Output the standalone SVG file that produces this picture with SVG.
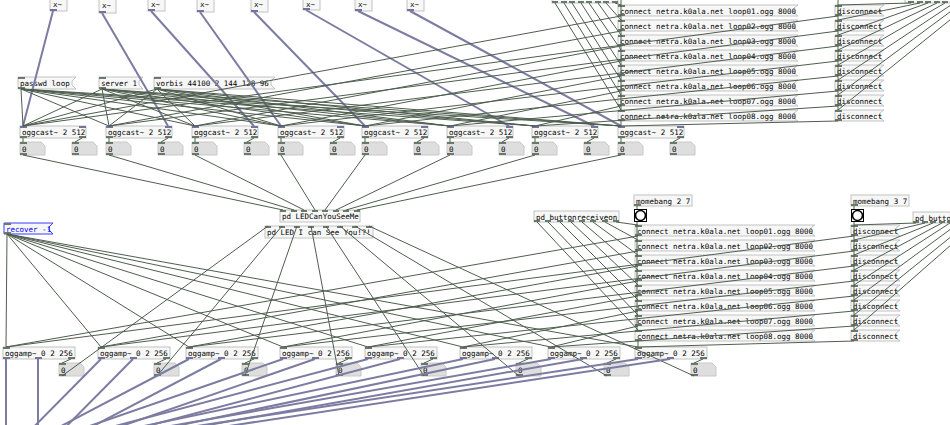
<svg xmlns="http://www.w3.org/2000/svg" width="950" height="425" viewBox="0 0 950 425">
<style>
.bx{fill:#f7f7f7;stroke:#c2c2c2;stroke-width:1}
.rb{fill:#f7f7f7;stroke:#3c3cff;stroke-width:1}
.nb{fill:#dedede;stroke:#c8c8c8;stroke-width:1}
.t{font-family:"DejaVu Sans Mono",monospace;font-size:7.5px;fill:#000}
.tb{font-family:"DejaVu Sans Mono",monospace;font-size:7.5px;fill:#0000ff}
.io{fill:#6a7a6a}
.sio{fill:#74749a}
.c{stroke:#4e5e4e;stroke-width:1;fill:none}
.s{stroke:#7c7ca2;stroke-width:2;fill:none}
.bg{fill:#fff;stroke:#000;stroke-width:1}
.bc{fill:none;stroke:#000;stroke-width:1.6}
</style>
<rect width="950" height="425" fill="#fff"/>
<g id="nodes">
<g id="mul1"><rect class="bx" x="50" y="-4" width="17" height="15"/><text class="t" x="53" y="7">x~</text><rect class="sio" x="50" y="9" width="7" height="2"/></g>
<g id="mul2"><rect class="bx" x="99" y="-2" width="17" height="15"/><rect class="sio" x="99" y="-2" width="7" height="2"/><rect class="sio" x="109" y="-2" width="7" height="2"/><text class="t" x="102" y="8">x~</text><rect class="sio" x="99" y="11" width="7" height="2"/></g>
<g id="mul3"><rect class="bx" x="148" y="-4" width="17" height="15"/><text class="t" x="151" y="7">x~</text><rect class="sio" x="148" y="9" width="7" height="2"/></g>
<g id="mul4"><rect class="bx" x="197" y="-3" width="17" height="15"/><text class="t" x="200" y="7">x~</text><rect class="sio" x="197" y="10" width="7" height="2"/></g>
<g id="mul5"><rect class="bx" x="251" y="-3" width="17" height="15"/><text class="t" x="254" y="7">x~</text><rect class="sio" x="251" y="10" width="7" height="2"/></g>
<g id="mul6"><rect class="bx" x="303" y="-5" width="17" height="15"/><text class="t" x="306" y="6.5">x~</text><rect class="sio" x="303" y="8" width="7" height="2"/></g>
<g id="mul7"><rect class="bx" x="355" y="-4" width="17" height="15"/><text class="t" x="358" y="7">x~</text><rect class="sio" x="355" y="9" width="7" height="2"/></g>
<g id="mul8"><rect class="bx" x="407" y="-4" width="17" height="15"/><text class="t" x="410" y="7">x~</text><rect class="sio" x="407" y="9" width="7" height="2"/></g>

<g id="msg-passwd"><path class="bx" d="M18 77H76L72 81V85L76 89H18Z"/><text class="t" x="20" y="86">passwd loop</text><rect class="io" x="18" y="77" width="7" height="2"/><rect class="io" x="18" y="87" width="7" height="2"/></g>
<g id="msg-server"><path class="bx" d="M99 77H143L139 81V85L143 89H99Z"/><text class="t" x="101" y="86">server 1</text><rect class="io" x="99" y="77" width="7" height="2"/><rect class="io" x="99" y="87" width="7" height="2"/></g>
<g id="msg-vorbis"><path class="bx" d="M154 77H275L271 81V85L275 89H154Z"/><text class="t" x="156" y="86">vorbis 44100 2 144 128 96</text><rect class="io" x="154" y="77" width="7" height="2"/><rect class="io" x="154" y="87" width="7" height="2"/></g>

<g id="oggcast1"><rect class="bx" x="20" y="126" width="66" height="12"/><text class="t" x="22" y="135">oggcast~ 2 512</text><rect class="sio" x="20" y="126" width="7" height="2"/><rect class="sio" x="79" y="126" width="7" height="2"/><rect class="io" x="20" y="136" width="7" height="2"/><rect class="io" x="79" y="136" width="7" height="2"/></g>
<g id="oggcast2"><rect class="bx" x="106" y="126" width="66" height="12"/><text class="t" x="108" y="135">oggcast~ 2 512</text><rect class="sio" x="106" y="126" width="7" height="2"/><rect class="sio" x="165" y="126" width="7" height="2"/><rect class="io" x="106" y="136" width="7" height="2"/><rect class="io" x="165" y="136" width="7" height="2"/></g>
<g id="oggcast3"><rect class="bx" x="192" y="126" width="66" height="12"/><text class="t" x="194" y="135">oggcast~ 2 512</text><rect class="sio" x="192" y="126" width="7" height="2"/><rect class="sio" x="251" y="126" width="7" height="2"/><rect class="io" x="192" y="136" width="7" height="2"/><rect class="io" x="251" y="136" width="7" height="2"/></g>
<g id="oggcast4"><rect class="bx" x="278" y="126" width="66" height="12"/><text class="t" x="280" y="135">oggcast~ 2 512</text><rect class="sio" x="278" y="126" width="7" height="2"/><rect class="sio" x="337" y="126" width="7" height="2"/><rect class="io" x="278" y="136" width="7" height="2"/><rect class="io" x="337" y="136" width="7" height="2"/></g>
<g id="oggcast5"><rect class="bx" x="362" y="126" width="66" height="12"/><text class="t" x="364" y="135">oggcast~ 2 512</text><rect class="sio" x="362" y="126" width="7" height="2"/><rect class="sio" x="421" y="126" width="7" height="2"/><rect class="io" x="362" y="136" width="7" height="2"/><rect class="io" x="421" y="136" width="7" height="2"/></g>
<g id="oggcast6"><rect class="bx" x="447" y="126" width="66" height="12"/><text class="t" x="449" y="135">oggcast~ 2 512</text><rect class="sio" x="447" y="126" width="7" height="2"/><rect class="sio" x="506" y="126" width="7" height="2"/><rect class="io" x="447" y="136" width="7" height="2"/><rect class="io" x="506" y="136" width="7" height="2"/></g>
<g id="oggcast7"><rect class="bx" x="532" y="126" width="66" height="12"/><text class="t" x="534" y="135">oggcast~ 2 512</text><rect class="sio" x="532" y="126" width="7" height="2"/><rect class="sio" x="591" y="126" width="7" height="2"/><rect class="io" x="532" y="136" width="7" height="2"/><rect class="io" x="591" y="136" width="7" height="2"/></g>
<g id="oggcast8"><rect class="bx" x="618" y="126" width="66" height="12"/><text class="t" x="620" y="135">oggcast~ 2 512</text><rect class="sio" x="618" y="126" width="7" height="2"/><rect class="sio" x="677" y="126" width="7" height="2"/><rect class="io" x="618" y="136" width="7" height="2"/><rect class="io" x="677" y="136" width="7" height="2"/></g>

<g id="numA1"><path class="nb" d="M20 142H41L45 146V155H20Z"/><text class="t" x="22" y="152">0</text><rect class="io" x="20" y="142" width="7" height="2"/><rect class="io" x="20" y="153" width="7" height="2"/></g>
<g id="numB1"><path class="nb" d="M72 142H93L97 146V155H72Z"/><text class="t" x="74" y="152">0</text><rect class="io" x="72" y="142" width="7" height="2"/><rect class="io" x="72" y="153" width="7" height="2"/></g>
<g id="numA2"><path class="nb" d="M106 142H127L131 146V155H106Z"/><text class="t" x="108" y="152">0</text><rect class="io" x="106" y="142" width="7" height="2"/><rect class="io" x="106" y="153" width="7" height="2"/></g>
<g id="numB2"><path class="nb" d="M158 142H179L183 146V155H158Z"/><text class="t" x="160" y="152">0</text><rect class="io" x="158" y="142" width="7" height="2"/><rect class="io" x="158" y="153" width="7" height="2"/></g>
<g id="numA3"><path class="nb" d="M192 142H213L217 146V155H192Z"/><text class="t" x="194" y="152">0</text><rect class="io" x="192" y="142" width="7" height="2"/><rect class="io" x="192" y="153" width="7" height="2"/></g>
<g id="numB3"><path class="nb" d="M244 142H265L269 146V155H244Z"/><text class="t" x="246" y="152">0</text><rect class="io" x="244" y="142" width="7" height="2"/><rect class="io" x="244" y="153" width="7" height="2"/></g>
<g id="numA4"><path class="nb" d="M278 142H299L303 146V155H278Z"/><text class="t" x="280" y="152">0</text><rect class="io" x="278" y="142" width="7" height="2"/><rect class="io" x="278" y="153" width="7" height="2"/></g>
<g id="numB4"><path class="nb" d="M330 142H351L355 146V155H330Z"/><text class="t" x="332" y="152">0</text><rect class="io" x="330" y="142" width="7" height="2"/><rect class="io" x="330" y="153" width="7" height="2"/></g>
<g id="numA5"><path class="nb" d="M362 142H383L387 146V155H362Z"/><text class="t" x="364" y="152">0</text><rect class="io" x="362" y="142" width="7" height="2"/><rect class="io" x="362" y="153" width="7" height="2"/></g>
<g id="numB5"><path class="nb" d="M414 142H435L439 146V155H414Z"/><text class="t" x="416" y="152">0</text><rect class="io" x="414" y="142" width="7" height="2"/><rect class="io" x="414" y="153" width="7" height="2"/></g>
<g id="numA6"><path class="nb" d="M447 142H468L472 146V155H447Z"/><text class="t" x="449" y="152">0</text><rect class="io" x="447" y="142" width="7" height="2"/><rect class="io" x="447" y="153" width="7" height="2"/></g>
<g id="numB6"><path class="nb" d="M499 142H520L524 146V155H499Z"/><text class="t" x="501" y="152">0</text><rect class="io" x="499" y="142" width="7" height="2"/><rect class="io" x="499" y="153" width="7" height="2"/></g>
<g id="numA7"><path class="nb" d="M532 142H553L557 146V155H532Z"/><text class="t" x="534" y="152">0</text><rect class="io" x="532" y="142" width="7" height="2"/><rect class="io" x="532" y="153" width="7" height="2"/></g>
<g id="numB7"><path class="nb" d="M584 142H605L609 146V155H584Z"/><text class="t" x="586" y="152">0</text><rect class="io" x="584" y="142" width="7" height="2"/><rect class="io" x="584" y="153" width="7" height="2"/></g>
<g id="numA8"><path class="nb" d="M618 142H639L643 146V155H618Z"/><text class="t" x="620" y="152">0</text><rect class="io" x="618" y="142" width="7" height="2"/><rect class="io" x="618" y="153" width="7" height="2"/></g>
<g id="numB8"><path class="nb" d="M670 142H691L695 146V155H670Z"/><text class="t" x="672" y="152">0</text><rect class="io" x="670" y="142" width="7" height="2"/><rect class="io" x="670" y="153" width="7" height="2"/></g>

<g id="topbox1"><rect class="bx" x="552" y="-9" width="66" height="12"/><rect class="io" x="552" y="1" width="6" height="2"/><rect class="io" x="561" y="1" width="6" height="2"/><rect class="io" x="569" y="1" width="6" height="2"/><rect class="io" x="578" y="1" width="6" height="2"/><rect class="io" x="586" y="1" width="6" height="2"/><rect class="io" x="595" y="1" width="6" height="2"/><rect class="io" x="603" y="1" width="6" height="2"/><rect class="io" x="612" y="1" width="6" height="2"/></g>
<g id="topbox2"><rect class="bx" x="905" y="-9" width="70" height="12"/><rect class="io" x="908" y="1" width="6" height="2"/><rect class="io" x="917" y="1" width="6" height="2"/><rect class="io" x="925" y="1" width="6" height="2"/><rect class="io" x="934" y="1" width="6" height="2"/><rect class="io" x="942" y="1" width="6" height="2"/></g>

<g id="conn-top1"><path class="bx" d="M618 5H798L794 8V13L798 16H618Z"/><text class="t" x="620" y="13.5">connect netra.k0ala.net loop01.ogg 8000</text><rect class="io" x="618" y="5" width="7" height="2"/><rect class="io" x="618" y="14" width="7" height="2"/></g>
<g id="conn-top2"><path class="bx" d="M618 20H798L794 23V28L798 31H618Z"/><text class="t" x="620" y="28.5">connect netra.k0ala.net loop02.ogg 8000</text><rect class="io" x="618" y="20" width="7" height="2"/><rect class="io" x="618" y="29" width="7" height="2"/></g>
<g id="conn-top3"><path class="bx" d="M618 35H798L794 38V43L798 46H618Z"/><text class="t" x="620" y="43.5">connect netra.k0ala.net loop03.ogg 8000</text><rect class="io" x="618" y="35" width="7" height="2"/><rect class="io" x="618" y="44" width="7" height="2"/></g>
<g id="conn-top4"><path class="bx" d="M618 50H798L794 53V58L798 61H618Z"/><text class="t" x="620" y="58.5">connect netra.k0ala.net loop04.ogg 8000</text><rect class="io" x="618" y="50" width="7" height="2"/><rect class="io" x="618" y="59" width="7" height="2"/></g>
<g id="conn-top5"><path class="bx" d="M618 65H798L794 68V73L798 76H618Z"/><text class="t" x="620" y="73.5">connect netra.k0ala.net loop05.ogg 8000</text><rect class="io" x="618" y="65" width="7" height="2"/><rect class="io" x="618" y="74" width="7" height="2"/></g>
<g id="conn-top6"><path class="bx" d="M618 80H798L794 83V88L798 91H618Z"/><text class="t" x="620" y="88.5">connect netra.k0ala.net loop06.ogg 8000</text><rect class="io" x="618" y="80" width="7" height="2"/><rect class="io" x="618" y="89" width="7" height="2"/></g>
<g id="conn-top7"><path class="bx" d="M618 95H798L794 98V103L798 106H618Z"/><text class="t" x="620" y="103.5">connect netra.k0ala.net loop07.ogg 8000</text><rect class="io" x="618" y="95" width="7" height="2"/><rect class="io" x="618" y="104" width="7" height="2"/></g>
<g id="conn-top8"><path class="bx" d="M618 110H798L794 113V118L798 121H618Z"/><text class="t" x="620" y="118.5">connect netra.k0ala.net loop08.ogg 8000</text><rect class="io" x="618" y="110" width="7" height="2"/><rect class="io" x="618" y="119" width="7" height="2"/></g>

<g id="disc-top1"><path class="bx" d="M835 5H884L880 8V13L884 16H835Z"/><text class="t" x="837" y="13.5">disconnect</text><rect class="io" x="835" y="5" width="7" height="2"/><rect class="io" x="835" y="14" width="7" height="2"/></g>
<g id="disc-top2"><path class="bx" d="M835 20H884L880 23V28L884 31H835Z"/><text class="t" x="837" y="28.5">disconnect</text><rect class="io" x="835" y="20" width="7" height="2"/><rect class="io" x="835" y="29" width="7" height="2"/></g>
<g id="disc-top3"><path class="bx" d="M835 35H884L880 38V43L884 46H835Z"/><text class="t" x="837" y="43.5">disconnect</text><rect class="io" x="835" y="35" width="7" height="2"/><rect class="io" x="835" y="44" width="7" height="2"/></g>
<g id="disc-top4"><path class="bx" d="M835 50H884L880 53V58L884 61H835Z"/><text class="t" x="837" y="58.5">disconnect</text><rect class="io" x="835" y="50" width="7" height="2"/><rect class="io" x="835" y="59" width="7" height="2"/></g>
<g id="disc-top5"><path class="bx" d="M835 65H884L880 68V73L884 76H835Z"/><text class="t" x="837" y="73.5">disconnect</text><rect class="io" x="835" y="65" width="7" height="2"/><rect class="io" x="835" y="74" width="7" height="2"/></g>
<g id="disc-top6"><path class="bx" d="M835 80H884L880 83V88L884 91H835Z"/><text class="t" x="837" y="88.5">disconnect</text><rect class="io" x="835" y="80" width="7" height="2"/><rect class="io" x="835" y="89" width="7" height="2"/></g>
<g id="disc-top7"><path class="bx" d="M835 95H884L880 98V103L884 106H835Z"/><text class="t" x="837" y="103.5">disconnect</text><rect class="io" x="835" y="95" width="7" height="2"/><rect class="io" x="835" y="104" width="7" height="2"/></g>
<g id="disc-top8"><path class="bx" d="M835 110H884L880 113V118L884 121H835Z"/><text class="t" x="837" y="118.5">disconnect</text><rect class="io" x="835" y="110" width="7" height="2"/><rect class="io" x="835" y="119" width="7" height="2"/></g>

<g id="led1"><rect class="bx" x="280" y="210" width="80" height="12"/><text class="t" x="282" y="219">pd LEDCanYouSeeMe</text><rect class="io" x="280" y="210" width="6" height="2"/><rect class="io" x="291" y="210" width="6" height="2"/><rect class="io" x="301" y="210" width="6" height="2"/><rect class="io" x="312" y="210" width="6" height="2"/><rect class="io" x="322" y="210" width="6" height="2"/><rect class="io" x="333" y="210" width="6" height="2"/><rect class="io" x="343" y="210" width="6" height="2"/><rect class="io" x="354" y="210" width="6" height="2"/></g>
<g id="led2"><rect class="bx" x="265" y="226" width="108" height="12"/><text class="t" x="267" y="235">pd LED I can See You!?!</text><rect class="io" x="265" y="226" width="6" height="2"/><rect class="io" x="279" y="226" width="6" height="2"/><rect class="io" x="294" y="226" width="6" height="2"/><rect class="io" x="308" y="226" width="6" height="2"/><rect class="io" x="323" y="226" width="6" height="2"/><rect class="io" x="337" y="226" width="6" height="2"/><rect class="io" x="352" y="226" width="6" height="2"/><rect class="io" x="366" y="226" width="6" height="2"/></g>

<g id="recover"><path class="rb" d="M4 223H53L49 227V230L53 234H4Z"/><text class="tb" x="6" y="232">recover -1</text><rect class="io" x="4" y="223" width="7" height="2"/><rect class="io" x="4" y="232" width="7" height="2"/></g>

<g id="btnrecv"><rect class="bx" x="534" y="211" width="85" height="11"/><text class="t" x="536" y="219.5">pd buttonreceiveon</text><rect class="io" x="534" y="220" width="6" height="2"/><rect class="io" x="545" y="220" width="6" height="2"/><rect class="io" x="557" y="220" width="6" height="2"/><rect class="io" x="568" y="220" width="6" height="2"/><rect class="io" x="579" y="220" width="6" height="2"/><rect class="io" x="590" y="220" width="6" height="2"/><rect class="io" x="602" y="220" width="6" height="2"/><rect class="io" x="613" y="220" width="6" height="2"/></g>
<g id="momebang2"><rect class="bx" x="634" y="195" width="58" height="11"/><text class="t" x="636" y="203.5">momebang 2 7</text><rect class="io" x="634" y="204" width="7" height="2"/></g>
<g id="bang2"><rect class="bg" x="634.5" y="209.5" width="12" height="12"/><circle class="bc" cx="640.5" cy="215.5" r="5"/></g>
<g id="momebang3"><rect class="bx" x="851" y="195" width="58" height="11"/><text class="t" x="853" y="203.5">momebang 3 7</text><rect class="io" x="851" y="204" width="7" height="2"/></g>
<g id="bang3"><rect class="bg" x="851.5" y="209.5" width="12" height="12"/><circle class="bc" cx="857.5" cy="215.5" r="5"/></g>
<g id="btnoff"><rect class="bx" x="913" y="212" width="80" height="11"/><text class="t" x="915" y="220.5">pd butto</text><rect class="io" x="913" y="221" width="6" height="2"/><rect class="io" x="922" y="221" width="6" height="2"/><rect class="io" x="930" y="221" width="6" height="2"/><rect class="io" x="939" y="221" width="6" height="2"/><rect class="io" x="947" y="221" width="6" height="2"/></g>

<g id="conn-mid1"><path class="bx" d="M635 225H815L811 228V233L815 236H635Z"/><text class="t" x="637" y="233.5">connect netra.k0ala.net loop01.ogg 8000</text><rect class="io" x="635" y="225" width="7" height="2"/><rect class="io" x="635" y="234" width="7" height="2"/></g>
<g id="conn-mid2"><path class="bx" d="M635 240H815L811 243V248L815 251H635Z"/><text class="t" x="637" y="248.5">connect netra.k0ala.net loop02.ogg 8000</text><rect class="io" x="635" y="240" width="7" height="2"/><rect class="io" x="635" y="249" width="7" height="2"/></g>
<g id="conn-mid3"><path class="bx" d="M635 255H815L811 258V263L815 266H635Z"/><text class="t" x="637" y="263.5">connect netra.k0ala.net loop03.ogg 8000</text><rect class="io" x="635" y="255" width="7" height="2"/><rect class="io" x="635" y="264" width="7" height="2"/></g>
<g id="conn-mid4"><path class="bx" d="M635 270H815L811 273V278L815 281H635Z"/><text class="t" x="637" y="278.5">connect netra.k0ala.net loop04.ogg 8000</text><rect class="io" x="635" y="270" width="7" height="2"/><rect class="io" x="635" y="279" width="7" height="2"/></g>
<g id="conn-mid5"><path class="bx" d="M635 285H815L811 288V293L815 296H635Z"/><text class="t" x="637" y="293.5">connect netra.k0ala.net loop05.ogg 8000</text><rect class="io" x="635" y="285" width="7" height="2"/><rect class="io" x="635" y="294" width="7" height="2"/></g>
<g id="conn-mid6"><path class="bx" d="M635 300H815L811 303V308L815 311H635Z"/><text class="t" x="637" y="308.5">connect netra.k0ala.net loop06.ogg 8000</text><rect class="io" x="635" y="300" width="7" height="2"/><rect class="io" x="635" y="309" width="7" height="2"/></g>
<g id="conn-mid7"><path class="bx" d="M635 315H815L811 318V323L815 326H635Z"/><text class="t" x="637" y="323.5">connect netra.k0ala.net loop07.ogg 8000</text><rect class="io" x="635" y="315" width="7" height="2"/><rect class="io" x="635" y="324" width="7" height="2"/></g>
<g id="conn-mid8"><path class="bx" d="M635 330H815L811 333V338L815 341H635Z"/><text class="t" x="637" y="338.5">connect netra.k0ala.net loop08.ogg 8000</text><rect class="io" x="635" y="330" width="7" height="2"/><rect class="io" x="635" y="339" width="7" height="2"/></g>

<g id="disc-mid1"><path class="bx" d="M851 225H900L896 228V233L900 236H851Z"/><text class="t" x="853" y="233.5">disconnect</text><rect class="io" x="851" y="225" width="7" height="2"/><rect class="io" x="851" y="234" width="7" height="2"/></g>
<g id="disc-mid2"><path class="bx" d="M851 240H900L896 243V248L900 251H851Z"/><text class="t" x="853" y="248.5">disconnect</text><rect class="io" x="851" y="240" width="7" height="2"/><rect class="io" x="851" y="249" width="7" height="2"/></g>
<g id="disc-mid3"><path class="bx" d="M851 255H900L896 258V263L900 266H851Z"/><text class="t" x="853" y="263.5">disconnect</text><rect class="io" x="851" y="255" width="7" height="2"/><rect class="io" x="851" y="264" width="7" height="2"/></g>
<g id="disc-mid4"><path class="bx" d="M851 270H900L896 273V278L900 281H851Z"/><text class="t" x="853" y="278.5">disconnect</text><rect class="io" x="851" y="270" width="7" height="2"/><rect class="io" x="851" y="279" width="7" height="2"/></g>
<g id="disc-mid5"><path class="bx" d="M851 285H900L896 288V293L900 296H851Z"/><text class="t" x="853" y="293.5">disconnect</text><rect class="io" x="851" y="285" width="7" height="2"/><rect class="io" x="851" y="294" width="7" height="2"/></g>
<g id="disc-mid6"><path class="bx" d="M851 300H900L896 303V308L900 311H851Z"/><text class="t" x="853" y="308.5">disconnect</text><rect class="io" x="851" y="300" width="7" height="2"/><rect class="io" x="851" y="309" width="7" height="2"/></g>
<g id="disc-mid7"><path class="bx" d="M851 315H900L896 318V323L900 326H851Z"/><text class="t" x="853" y="323.5">disconnect</text><rect class="io" x="851" y="315" width="7" height="2"/><rect class="io" x="851" y="324" width="7" height="2"/></g>
<g id="disc-mid8"><path class="bx" d="M851 330H900L896 333V338L900 341H851Z"/><text class="t" x="853" y="338.5">disconnect</text><rect class="io" x="851" y="330" width="7" height="2"/><rect class="io" x="851" y="339" width="7" height="2"/></g>

<g id="oggamp1"><rect class="bx" x="3" y="347" width="72" height="12"/><text class="t" x="5" y="356">oggamp~ 0 2 256</text><rect class="io" x="3" y="347" width="7" height="2"/><rect class="sio" x="3" y="357" width="7" height="2"/><rect class="sio" x="35" y="357" width="7" height="2"/><rect class="io" x="68" y="357" width="7" height="2"/></g>
<g id="oggamp2"><rect class="bx" x="98" y="347" width="72" height="12"/><text class="t" x="100" y="356">oggamp~ 0 2 256</text><rect class="io" x="98" y="347" width="7" height="2"/><rect class="sio" x="98" y="357" width="7" height="2"/><rect class="sio" x="130" y="357" width="7" height="2"/><rect class="io" x="163" y="357" width="7" height="2"/></g>
<g id="oggamp3"><rect class="bx" x="186" y="347" width="72" height="12"/><text class="t" x="188" y="356">oggamp~ 0 2 256</text><rect class="io" x="186" y="347" width="7" height="2"/><rect class="sio" x="186" y="357" width="7" height="2"/><rect class="sio" x="218" y="357" width="7" height="2"/><rect class="io" x="251" y="357" width="7" height="2"/></g>
<g id="oggamp4"><rect class="bx" x="280" y="347" width="72" height="12"/><text class="t" x="282" y="356">oggamp~ 0 2 256</text><rect class="io" x="280" y="347" width="7" height="2"/><rect class="sio" x="280" y="357" width="7" height="2"/><rect class="sio" x="312" y="357" width="7" height="2"/><rect class="io" x="345" y="357" width="7" height="2"/></g>
<g id="oggamp5"><rect class="bx" x="365" y="347" width="72" height="12"/><text class="t" x="367" y="356">oggamp~ 0 2 256</text><rect class="io" x="365" y="347" width="7" height="2"/><rect class="sio" x="365" y="357" width="7" height="2"/><rect class="sio" x="397" y="357" width="7" height="2"/><rect class="io" x="430" y="357" width="7" height="2"/></g>
<g id="oggamp6"><rect class="bx" x="460" y="347" width="72" height="12"/><text class="t" x="462" y="356">oggamp~ 0 2 256</text><rect class="io" x="460" y="347" width="7" height="2"/><rect class="sio" x="460" y="357" width="7" height="2"/><rect class="sio" x="492" y="357" width="7" height="2"/><rect class="io" x="525" y="357" width="7" height="2"/></g>
<g id="oggamp7"><rect class="bx" x="548" y="347" width="72" height="12"/><text class="t" x="550" y="356">oggamp~ 0 2 256</text><rect class="io" x="548" y="347" width="7" height="2"/><rect class="sio" x="548" y="357" width="7" height="2"/><rect class="sio" x="580" y="357" width="7" height="2"/><rect class="io" x="613" y="357" width="7" height="2"/></g>
<g id="oggamp8"><rect class="bx" x="635" y="347" width="72" height="12"/><text class="t" x="637" y="356">oggamp~ 0 2 256</text><rect class="io" x="635" y="347" width="7" height="2"/><rect class="sio" x="635" y="357" width="7" height="2"/><rect class="sio" x="667" y="357" width="7" height="2"/><rect class="io" x="700" y="357" width="7" height="2"/></g>

<g id="numC1"><path class="nb" d="M59 363H80L84 367V376H59Z"/><text class="t" x="61" y="373">0</text><rect class="io" x="59" y="363" width="7" height="2"/><rect class="io" x="59" y="374" width="7" height="2"/></g>
<g id="numC2"><path class="nb" d="M154 363H175L179 367V376H154Z"/><text class="t" x="156" y="373">0</text><rect class="io" x="154" y="363" width="7" height="2"/><rect class="io" x="154" y="374" width="7" height="2"/></g>
<g id="numC3"><path class="nb" d="M242 363H263L267 367V376H242Z"/><text class="t" x="244" y="373">0</text><rect class="io" x="242" y="363" width="7" height="2"/><rect class="io" x="242" y="374" width="7" height="2"/></g>
<g id="numC4"><path class="nb" d="M336 363H357L361 367V376H336Z"/><text class="t" x="338" y="373">0</text><rect class="io" x="336" y="363" width="7" height="2"/><rect class="io" x="336" y="374" width="7" height="2"/></g>
<g id="numC5"><path class="nb" d="M421 363H442L446 367V376H421Z"/><text class="t" x="423" y="373">0</text><rect class="io" x="421" y="363" width="7" height="2"/><rect class="io" x="421" y="374" width="7" height="2"/></g>
<g id="numC6"><path class="nb" d="M516 363H537L541 367V376H516Z"/><text class="t" x="518" y="373">0</text><rect class="io" x="516" y="363" width="7" height="2"/><rect class="io" x="516" y="374" width="7" height="2"/></g>
<g id="numC7"><path class="nb" d="M604 363H625L629 367V376H604Z"/><text class="t" x="606" y="373">0</text><rect class="io" x="604" y="363" width="7" height="2"/><rect class="io" x="604" y="374" width="7" height="2"/></g>
<g id="numC8"><path class="nb" d="M691 363H712L716 367V376H691Z"/><text class="t" x="693" y="373">0</text><rect class="io" x="691" y="363" width="7" height="2"/><rect class="io" x="691" y="374" width="7" height="2"/></g>
</g>

<g id="connections">
<line class="s" x1="53" y1="11" x2="23" y2="126"/>
<line class="s" x1="102" y1="13" x2="168" y2="126"/>
<line class="s" x1="151" y1="11" x2="254" y2="126"/>
<line class="s" x1="200" y1="12" x2="281" y2="126"/>
<line class="s" x1="254" y1="12" x2="365" y2="126"/>
<line class="s" x1="306" y1="10" x2="509" y2="126"/>
<line class="s" x1="358" y1="11" x2="594" y2="126"/>
<line class="s" x1="410" y1="11" x2="621" y2="126"/>

<line class="c" x1="21" y1="89" x2="23" y2="126"/><line class="c" x1="21" y1="89" x2="109" y2="126"/><line class="c" x1="21" y1="89" x2="195" y2="126"/><line class="c" x1="21" y1="89" x2="281" y2="126"/><line class="c" x1="21" y1="89" x2="365" y2="126"/><line class="c" x1="21" y1="89" x2="450" y2="126"/><line class="c" x1="21" y1="89" x2="535" y2="126"/><line class="c" x1="21" y1="89" x2="621" y2="126"/>
<line class="c" x1="102" y1="89" x2="23" y2="126"/><line class="c" x1="102" y1="89" x2="109" y2="126"/><line class="c" x1="102" y1="89" x2="195" y2="126"/><line class="c" x1="102" y1="89" x2="281" y2="126"/><line class="c" x1="102" y1="89" x2="365" y2="126"/><line class="c" x1="102" y1="89" x2="450" y2="126"/><line class="c" x1="102" y1="89" x2="535" y2="126"/><line class="c" x1="102" y1="89" x2="621" y2="126"/>
<line class="c" x1="157" y1="89" x2="23" y2="126"/><line class="c" x1="157" y1="89" x2="109" y2="126"/><line class="c" x1="157" y1="89" x2="195" y2="126"/><line class="c" x1="157" y1="89" x2="281" y2="126"/><line class="c" x1="157" y1="89" x2="365" y2="126"/><line class="c" x1="157" y1="89" x2="450" y2="126"/><line class="c" x1="157" y1="89" x2="535" y2="126"/><line class="c" x1="157" y1="89" x2="621" y2="126"/>

<line class="c" x1="621" y1="16" x2="23" y2="126"/><line class="c" x1="621" y1="31" x2="109" y2="126"/><line class="c" x1="621" y1="46" x2="195" y2="126"/><line class="c" x1="621" y1="61" x2="281" y2="126"/><line class="c" x1="621" y1="76" x2="365" y2="126"/><line class="c" x1="621" y1="91" x2="450" y2="126"/><line class="c" x1="621" y1="106" x2="535" y2="126"/><line class="c" x1="621" y1="121" x2="621" y2="126"/>
<line class="c" x1="838" y1="16" x2="23" y2="126"/><line class="c" x1="838" y1="31" x2="109" y2="126"/><line class="c" x1="838" y1="46" x2="195" y2="126"/><line class="c" x1="838" y1="61" x2="281" y2="126"/><line class="c" x1="838" y1="76" x2="365" y2="126"/><line class="c" x1="838" y1="91" x2="450" y2="126"/><line class="c" x1="838" y1="106" x2="535" y2="126"/><line class="c" x1="838" y1="121" x2="621" y2="126"/>

<line class="c" x1="555" y1="3" x2="621" y2="110"/><line class="c" x1="564" y1="3" x2="621" y2="95"/><line class="c" x1="572" y1="3" x2="621" y2="80"/><line class="c" x1="581" y1="3" x2="621" y2="65"/><line class="c" x1="589" y1="3" x2="621" y2="50"/><line class="c" x1="598" y1="3" x2="621" y2="35"/><line class="c" x1="606" y1="3" x2="621" y2="20"/><line class="c" x1="615" y1="3" x2="621" y2="5"/>
<line class="c" x1="621" y1="-2" x2="621" y2="110"/>
<line class="c" x1="911" y1="3" x2="838" y2="5"/><line class="c" x1="920" y1="3" x2="838" y2="20"/><line class="c" x1="928" y1="3" x2="838" y2="35"/><line class="c" x1="937" y1="3" x2="838" y2="50"/><line class="c" x1="945" y1="3" x2="838" y2="65"/><line class="c" x1="954" y1="3" x2="838" y2="80"/><line class="c" x1="962" y1="3" x2="838" y2="95"/><line class="c" x1="971" y1="3" x2="838" y2="110"/>
<line class="c" x1="838" y1="-2" x2="838" y2="110"/>

<line class="c" x1="23" y1="138" x2="23" y2="142"/><line class="c" x1="82" y1="138" x2="75" y2="142"/>
<line class="c" x1="109" y1="138" x2="109" y2="142"/><line class="c" x1="168" y1="138" x2="161" y2="142"/>
<line class="c" x1="195" y1="138" x2="195" y2="142"/><line class="c" x1="254" y1="138" x2="247" y2="142"/>
<line class="c" x1="281" y1="138" x2="281" y2="142"/><line class="c" x1="340" y1="138" x2="333" y2="142"/>
<line class="c" x1="365" y1="138" x2="365" y2="142"/><line class="c" x1="424" y1="138" x2="417" y2="142"/>
<line class="c" x1="450" y1="138" x2="450" y2="142"/><line class="c" x1="509" y1="138" x2="502" y2="142"/>
<line class="c" x1="535" y1="138" x2="535" y2="142"/><line class="c" x1="594" y1="138" x2="587" y2="142"/>
<line class="c" x1="621" y1="138" x2="621" y2="142"/><line class="c" x1="680" y1="138" x2="673" y2="142"/>

<line class="c" x1="23" y1="155" x2="283" y2="210"/><line class="c" x1="109" y1="155" x2="294" y2="210"/><line class="c" x1="195" y1="155" x2="304" y2="210"/><line class="c" x1="281" y1="155" x2="315" y2="210"/><line class="c" x1="365" y1="155" x2="325" y2="210"/><line class="c" x1="450" y1="155" x2="336" y2="210"/><line class="c" x1="535" y1="155" x2="346" y2="210"/><line class="c" x1="621" y1="155" x2="357" y2="210"/>

<line class="c" x1="7" y1="234" x2="6" y2="347"/><line class="c" x1="7" y1="234" x2="101" y2="347"/><line class="c" x1="7" y1="234" x2="189" y2="347"/><line class="c" x1="7" y1="234" x2="283" y2="347"/><line class="c" x1="7" y1="234" x2="368" y2="347"/><line class="c" x1="7" y1="234" x2="463" y2="347"/><line class="c" x1="7" y1="234" x2="551" y2="347"/><line class="c" x1="7" y1="234" x2="638" y2="347"/>

<line class="c" x1="638" y1="236" x2="6" y2="347"/><line class="c" x1="638" y1="251" x2="101" y2="347"/><line class="c" x1="638" y1="266" x2="189" y2="347"/><line class="c" x1="638" y1="281" x2="283" y2="347"/><line class="c" x1="638" y1="296" x2="368" y2="347"/><line class="c" x1="638" y1="311" x2="463" y2="347"/><line class="c" x1="638" y1="326" x2="551" y2="347"/><line class="c" x1="638" y1="341" x2="638" y2="347"/>
<line class="c" x1="854" y1="236" x2="6" y2="347"/><line class="c" x1="854" y1="251" x2="101" y2="347"/><line class="c" x1="854" y1="266" x2="189" y2="347"/><line class="c" x1="854" y1="281" x2="283" y2="347"/><line class="c" x1="854" y1="296" x2="368" y2="347"/><line class="c" x1="854" y1="311" x2="463" y2="347"/><line class="c" x1="854" y1="326" x2="551" y2="347"/><line class="c" x1="854" y1="341" x2="638" y2="347"/>

<line class="c" x1="537" y1="222" x2="638" y2="330"/><line class="c" x1="548" y1="222" x2="638" y2="315"/><line class="c" x1="560" y1="222" x2="638" y2="300"/><line class="c" x1="571" y1="222" x2="638" y2="285"/><line class="c" x1="582" y1="222" x2="638" y2="270"/><line class="c" x1="593" y1="222" x2="638" y2="255"/><line class="c" x1="605" y1="222" x2="638" y2="240"/><line class="c" x1="616" y1="222" x2="638" y2="225"/>
<line class="c" x1="637" y1="206" x2="637" y2="209"/>
<line class="c" x1="637" y1="222" x2="637" y2="330"/>
<line class="c" x1="854" y1="206" x2="854" y2="209"/>
<line class="c" x1="854" y1="222" x2="854" y2="330"/>
<line class="c" x1="916" y1="223" x2="854" y2="225"/><line class="c" x1="925" y1="223" x2="854" y2="240"/><line class="c" x1="933" y1="223" x2="854" y2="255"/><line class="c" x1="942" y1="223" x2="854" y2="270"/><line class="c" x1="950" y1="223" x2="854" y2="285"/><line class="c" x1="959" y1="223" x2="854" y2="300"/><line class="c" x1="968" y1="223" x2="854" y2="315"/><line class="c" x1="976" y1="223" x2="854" y2="330"/>

<line class="c" x1="71" y1="359" x2="62" y2="363"/><line class="c" x1="166" y1="359" x2="157" y2="363"/><line class="c" x1="254" y1="359" x2="245" y2="363"/><line class="c" x1="348" y1="359" x2="339" y2="363"/><line class="c" x1="433" y1="359" x2="424" y2="363"/><line class="c" x1="528" y1="359" x2="519" y2="363"/><line class="c" x1="616" y1="359" x2="607" y2="363"/><line class="c" x1="703" y1="359" x2="694" y2="363"/>

<line class="c" x1="62" y1="376" x2="268" y2="226"/><line class="c" x1="157" y1="376" x2="282" y2="226"/><line class="c" x1="245" y1="376" x2="297" y2="226"/><line class="c" x1="339" y1="376" x2="311" y2="226"/><line class="c" x1="424" y1="376" x2="326" y2="226"/><line class="c" x1="519" y1="376" x2="340" y2="226"/><line class="c" x1="607" y1="376" x2="355" y2="226"/><line class="c" x1="694" y1="376" x2="369" y2="226"/>

<line class="s" x1="6" y1="359" x2="6" y2="455"/><line class="s" x1="38" y1="359" x2="38" y2="455"/>
<line class="s" x1="101" y1="359" x2="6" y2="455"/><line class="s" x1="133" y1="359" x2="38" y2="455"/>
<line class="s" x1="189" y1="359" x2="6" y2="455"/><line class="s" x1="221" y1="359" x2="38" y2="455"/>
<line class="s" x1="283" y1="359" x2="6" y2="455"/><line class="s" x1="315" y1="359" x2="38" y2="455"/>
<line class="s" x1="368" y1="359" x2="6" y2="455"/><line class="s" x1="400" y1="359" x2="38" y2="455"/>
<line class="s" x1="463" y1="359" x2="6" y2="455"/><line class="s" x1="495" y1="359" x2="38" y2="455"/>
<line class="s" x1="551" y1="359" x2="6" y2="455"/><line class="s" x1="583" y1="359" x2="38" y2="455"/>
<line class="s" x1="638" y1="359" x2="6" y2="455"/><line class="s" x1="670" y1="359" x2="38" y2="455"/>
</g>
</svg>
